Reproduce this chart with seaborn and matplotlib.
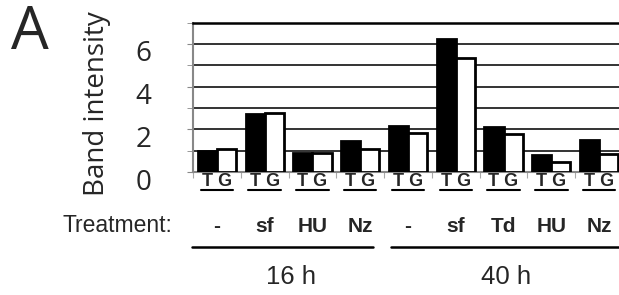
import numpy as np
import pandas as pd
import matplotlib
matplotlib.use("Agg")
import matplotlib.pyplot as plt
import matplotlib.transforms as mtransforms
from matplotlib.lines import Line2D
import seaborn as sns

# band intensity, T lane and G lane, per condition
groups = ['16h -', '16h sf', '16h HU', '16h Nz', '40h -', '40h sf', '40h Td', '40h HU', '40h Nz']
treatments = ['-', 'sf', 'HU', 'Nz', '-', 'sf', 'Td', 'HU', 'Nz']
t_vals = [1.00, 2.73, 0.89, 1.45, 2.16, 6.22, 2.11, 0.81, 1.52]
g_vals = [1.06, 2.75, 0.89, 1.09, 1.84, 5.36, 1.80, 0.48, 0.86]
times = ['16 h', '40 h']
time_spans = [(0, 3), (4, 8)]

df = pd.DataFrame({
    'group': groups * 2,
    'lane': ['T'] * len(groups) + ['G'] * len(groups),
    'value': t_vals + g_vals,
})

sns.set_style('white')
plt.rcParams['font.family'] = ['Liberation Sans', 'DejaVu Sans']

fig = plt.figure(figsize=(6.19, 2.95), dpi=100)
ax = fig.add_axes([193 / 619, 1 - 172 / 295, 430 / 619, 149.5 / 295])

sns.barplot(data=df, x='group', y='value', hue='lane', order=groups, hue_order=['T', 'G'],
            palette=['black', 'white'], edgecolor='black', linewidth=2, width=0.8,
            legend=False, ax=ax, zorder=3)

ax.set_xlim(-0.5, len(groups) - 0.5)
ax.set_ylim(0, 7)
ax.set_xlabel('')
ax.set_ylabel('')
ax.set_yticks(range(0, 8), minor=True)
ax.set_yticks([0, 2, 4, 6])
ax.set_yticklabels(['0', '2', '4', '6'], family='Open Sans', fontsize=20)
ax.grid(True, which='both', axis='y', color='#333333', linewidth=1.4, zorder=0)
ax.set_axisbelow(True)
ax.tick_params(axis='y', which='both', length=4, color='#888888', pad=26, left=True)
ax.set_xticks(np.arange(-0.5, len(groups), 1.0))
ax.set_xticklabels([])
ax.tick_params(axis='x', length=4, color='#aaaaaa', bottom=True)
for lab in ax.get_yticklabels():
    lab.set_transform(lab.get_transform() + mtransforms.ScaledTranslation(0, -0.07, fig.dpi_scale_trans))

for side in ['left', 'bottom']:
    ax.spines[side].set_color('#888888')
    ax.spines[side].set_linewidth(1.5)
ax.spines['top'].set_color('black')
ax.spines['top'].set_linewidth(1.8)
ax.spines['right'].set_visible(False)

trans = mtransforms.blended_transform_factory(ax.transData, fig.transFigure)

def fy(px):
    return 1 - px / 295

for i, tr in enumerate(treatments):
    ax.text(i, fy(181), 'T G', transform=trans, ha='center', va='center',
            fontsize=13, fontweight='bold')
    ax.add_line(Line2D([i - 0.34, i + 0.34], [fy(190), fy(190)], transform=trans,
                       color='black', linewidth=1.5, clip_on=False))
    ax.text(i, fy(226), tr, transform=trans, ha='center', va='center',
            fontsize=15, fontweight='bold')

line_ends = [(-0.52, 3.27), (3.64, 8.7)]
for label, (a, b), (l0, l1) in zip(times, time_spans, line_ends):
    ax.add_line(Line2D([l0, l1], [fy(247), fy(247)], transform=trans,
                       color='black', linewidth=1.8, clip_on=False))
    ax.text((a + b) / 2 + 0.05, fy(277), label, transform=trans, ha='center', va='center',
            fontsize=18.5)

fig.text(172 / 619, fy(226), 'Treatment:', ha='right', va='center', fontsize=16.5)
fig.text(97 / 619, fy(104), 'Band intensity', rotation=90, ha='center', va='center',
         fontsize=20, family='Open Sans')
fig.text(11 / 619, fy(49), 'A', ha='left', va='baseline', fontsize=43, family='Open Sans')

fig.savefig('out.png', dpi=100)
